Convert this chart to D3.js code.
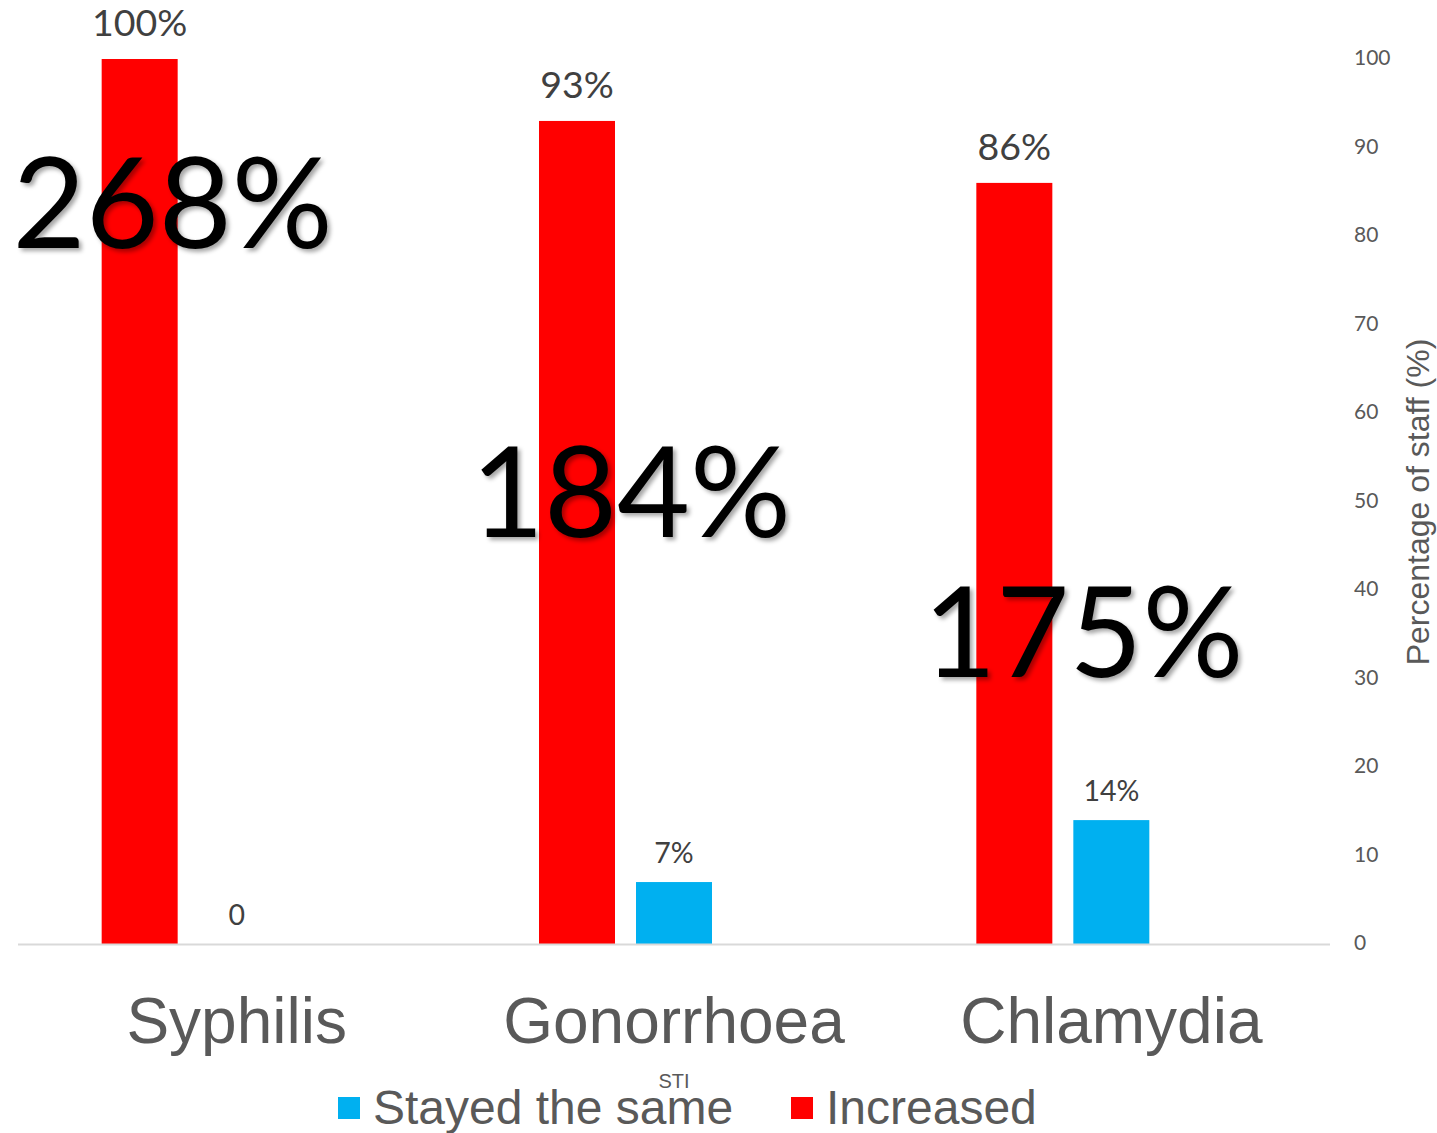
<!DOCTYPE html>
<html>
<head>
<meta charset="utf-8">
<script src="https://cdn.jsdelivr.net/npm/d3@7"></script>
<style>
  html, body { margin: 0; padding: 0; background: #fff; }
  svg { display: block; }
</style>
</head>
<body>
<svg id="chart" width="1437" height="1133"></svg>
<script>
// STI categories and share of staff reporting each change (%)
const categories = ["Syphilis", "Gonorrhoea", "Chlamydia"];
const increased = [100, 93, 86];
const stayedSame = [0, 7, 14];
const yTicks = [0, 10, 20, 30, 40, 50, 60, 70, 80, 90, 100];
// Relative rise in diagnoses, shown over each group
const riseLabels = ["268%", "184%", "175%"];

// third slot is kept empty so each group keeps its clustered spacing
const seriesKeys = ["Increased", "Stayed the same", "Decreased"];
const seriesColors = { "Increased": "#ff0000", "Stayed the same": "#00b0f0" };

const svg = d3.select("#chart");
const plot = { left: 18, right: 1330, top: 59, bottom: 944 };

const defs = svg.append("defs");
const shadow = defs.append("filter").attr("id", "softShadow")
  .attr("x", "-10%").attr("y", "-10%").attr("width", "130%").attr("height", "130%");
shadow.append("feDropShadow")
  .attr("dx", 3).attr("dy", 3).attr("stdDeviation", 2.2)
  .attr("flood-color", "#000").attr("flood-opacity", 0.35);

const x0 = d3.scaleBand().domain(categories).range([plot.left, plot.right]).padding(0);
const groupW = 270;
const x1 = d3.scaleBand().domain(seriesKeys)
  .range([0, groupW])
  .paddingInner(21 / 97).paddingOuter(0);
const y = d3.scaleLinear().domain([0, 100]).range([plot.bottom, plot.top]);

const rows = categories.map((c, i) => ({
  cat: c,
  values: [
    { key: "Increased", value: increased[i] },
    { key: "Stayed the same", value: stayedSame[i] }
  ]
}));

// the middle slot of each cluster sits under the category label
const groups = svg.append("g").selectAll("g").data(rows).join("g")
  .attr("transform", d => `translate(${x0(d.cat) + x0.bandwidth() / 2 - (x1("Stayed the same") + x1.bandwidth() / 2)},0)`);

groups.selectAll("rect").data(d => d.values).join("rect")
  .attr("x", d => x1(d.key))
  .attr("width", x1.bandwidth())
  .attr("y", d => y(d.value))
  .attr("height", d => y(0) - y(d.value))
  .attr("fill", d => seriesColors[d.key]);

groups.selectAll("text.val").data(d => d.values).join("text")
  .attr("class", "val")
  .attr("x", d => x1(d.key) + x1.bandwidth() / 2)
  .attr("y", d => y(d.value) - (d.key === "Increased" ? 23 : 19.5))
  .attr("text-anchor", "middle")
  .attr("font-family", "Lato, 'Open Sans', sans-serif")
  .attr("font-size", d => d.key === "Increased" ? 37.5 : 28.5)
  .attr("fill", "#404040")
  .text(d => d.value === 0 ? "0" : d.value + "%");

// baseline
svg.append("line")
  .attr("x1", plot.left).attr("x2", plot.right)
  .attr("y1", y(0) + 0.5).attr("y2", y(0) + 0.5)
  .attr("stroke", "#d9d9d9").attr("stroke-width", 2);

// right value axis
const yAxis = d3.axisRight(y).tickValues(yTicks).tickSize(0).tickPadding(24).tickFormat(d3.format("d"));
const ya = svg.append("g").attr("transform", `translate(${plot.right},-1)`).call(yAxis);
ya.select(".domain").remove();
ya.selectAll("text")
  .attr("font-family", "Lato, 'Open Sans', sans-serif")
  .attr("font-size", 21)
  .attr("fill", "#595959");

svg.append("text")
  .attr("transform", "translate(1429,502) rotate(-90)")
  .attr("text-anchor", "middle")
  .attr("font-family", "'Liberation Sans', Arial, sans-serif")
  .attr("font-size", 32)
  .attr("fill", "#595959")
  .text("Percentage of staff (%)");

// category labels
svg.append("g").selectAll("text").data(categories).join("text")
  .attr("x", d => x0(d) + x0.bandwidth() / 2)
  .attr("y", 1043)
  .attr("text-anchor", "middle")
  .attr("font-family", "'Liberation Sans', Arial, sans-serif")
  .attr("font-size", 64)
  .attr("fill", "#595959")
  .text(d => d);

svg.append("text")
  .attr("x", x0("Gonorrhoea") + x0.bandwidth() / 2)
  .attr("y", 1088)
  .attr("text-anchor", "middle")
  .attr("font-family", "'Liberation Sans', Arial, sans-serif")
  .attr("font-size", 20)
  .attr("fill", "#595959")
  .text("STI");

// legend
const legendItems = [
  { key: "Stayed the same", x: 338 },
  { key: "Increased", x: 791 }
];
const lg = svg.append("g").selectAll("g").data(legendItems).join("g")
  .attr("transform", d => `translate(${d.x},1097)`);
lg.append("rect").attr("width", 22).attr("height", 22).attr("fill", d => seriesColors[d.key]);
lg.append("text")
  .attr("x", 35).attr("y", 27)
  .attr("font-family", "'Liberation Sans', Arial, sans-serif")
  .attr("font-size", 48)
  .attr("fill", "#595959")
  .text(d => d.key);

// large rise annotations
const risePos = [
  { dx: -64, y: 248 },
  { dx: -43, y: 537 },
  { dx: -28, y: 677 }
];
svg.append("g").selectAll("text").data(riseLabels).join("text")
  .attr("x", (d, i) => x0(categories[i]) + x0.bandwidth() / 2 + risePos[i].dx)
  .attr("y", (d, i) => risePos[i].y)
  .attr("text-anchor", "middle")
  .attr("font-family", "Lato, 'Open Sans', sans-serif")
  .attr("font-size", 126)
  .attr("fill", "#000")
  .attr("filter", "url(#softShadow)")
  .text(d => d);
</script>
</body>
</html>
